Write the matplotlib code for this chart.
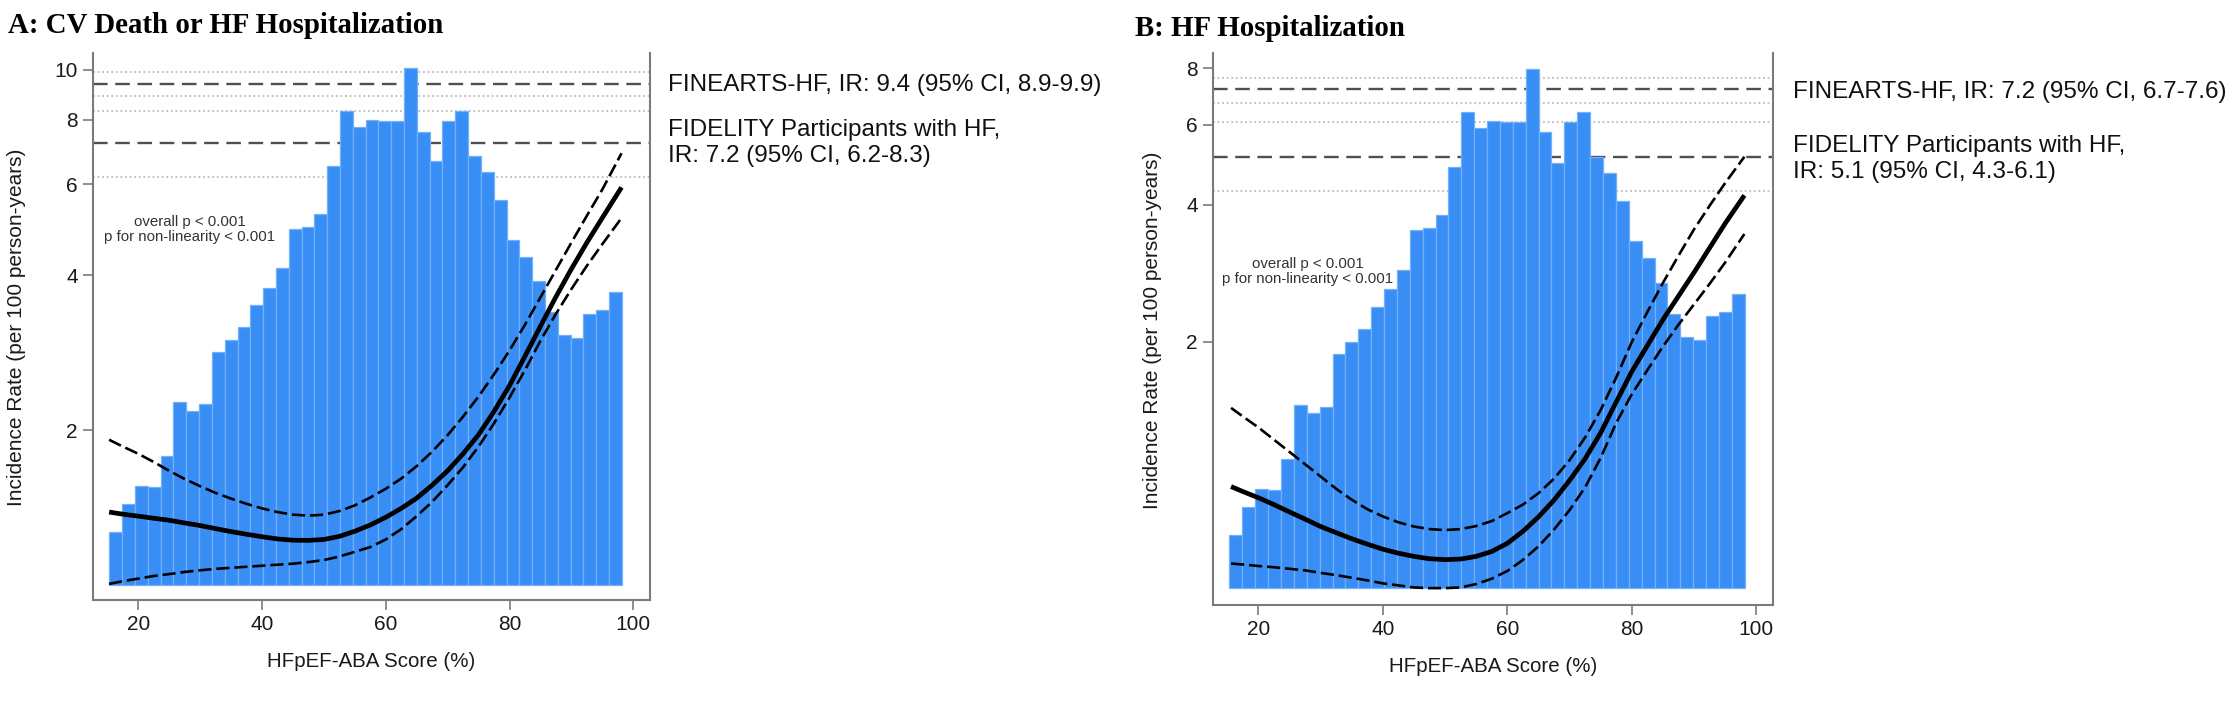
import numpy as np
import matplotlib
matplotlib.use("Agg")
import matplotlib.pyplot as plt
from matplotlib.ticker import FixedLocator, NullLocator, FixedFormatter

plt.rcParams['font.family'] = ['Liberation Sans', 'DejaVu Sans']
plt.rcParams['lines.scale_dashes'] = False

# ---------------- data ----------------
hist_start = 15.35
hist_width = 2.07
hist_rel = [0.103, 0.157, 0.192, 0.190, 0.250, 0.354, 0.337, 0.350, 0.451, 0.474,
            0.500, 0.542, 0.576, 0.614, 0.690, 0.693, 0.719, 0.811, 0.917, 0.886,
            0.900, 0.898, 0.898, 1.000, 0.878, 0.820, 0.898, 0.917, 0.830, 0.800,
            0.746, 0.668, 0.636, 0.588, 0.528, 0.484, 0.479, 0.525, 0.533, 0.567]

score_A = [15.3, 17.5, 20, 22.5, 25, 27.5, 30, 32.5, 35, 37.5, 40, 42.5, 45, 47.5, 50, 52.5,
           55, 57.5, 60, 62.5, 65, 67.5, 70, 72.5, 75, 77.5, 80, 82.5, 85, 87.5, 90, 92.5, 95, 98.1]
score_B = [15.6, 17.5, 20, 22.5, 25, 27.5, 30, 32.5, 35, 37.5, 40, 42.5, 45, 47.5, 50, 52.5,
           55, 57.5, 60, 62.5, 65, 67.5, 70, 72.5, 75, 77.5, 80, 82.5, 85, 87.5, 90, 92.5, 95, 98.1]

A_est = [1.390, 1.377, 1.365, 1.352, 1.340, 1.324, 1.309, 1.291, 1.274, 1.259, 1.245, 1.233,
         1.226, 1.225, 1.230, 1.247, 1.276, 1.312, 1.358, 1.413, 1.479, 1.567, 1.671, 1.803,
         1.963, 2.178, 2.443, 2.786, 3.184, 3.631, 4.111, 4.624, 5.164, 5.916]
A_hi = [1.919, 1.862, 1.803, 1.738, 1.671, 1.611, 1.560, 1.514, 1.476, 1.442, 1.413, 1.390,
        1.374, 1.368, 1.374, 1.396, 1.432, 1.483, 1.542, 1.614, 1.706, 1.820, 1.959, 2.128,
        2.328, 2.570, 2.858, 3.206, 3.622, 4.093, 4.624, 5.212, 5.861, 6.887]
A_lo = [1.009, 1.021, 1.033, 1.045, 1.054, 1.064, 1.072, 1.079, 1.084, 1.089, 1.094, 1.099,
        1.104, 1.112, 1.122, 1.140, 1.164, 1.189, 1.230, 1.288, 1.365, 1.455, 1.567, 1.698,
        1.862, 2.065, 2.317, 2.618, 2.985, 3.365, 3.758, 4.169, 4.592, 5.160]

B_est = [0.959, 0.935, 0.906, 0.875, 0.843, 0.813, 0.783, 0.759, 0.736, 0.716, 0.698, 0.684,
         0.673, 0.665, 0.662, 0.664, 0.673, 0.690, 0.719, 0.764, 0.822, 0.895, 0.989, 1.104,
         1.259, 1.472, 1.718, 1.959, 2.234, 2.518, 2.838, 3.214, 3.639, 4.198]
B_hi = [1.429, 1.368, 1.294, 1.216, 1.143, 1.074, 1.009, 0.948, 0.897, 0.855, 0.824, 0.800,
        0.783, 0.773, 0.769, 0.773, 0.785, 0.805, 0.838, 0.875, 0.927, 0.998, 1.096, 1.230,
        1.413, 1.667, 1.995, 2.323, 2.692, 3.090, 3.532, 3.981, 4.467, 5.105]
B_lo = [0.649, 0.646, 0.641, 0.637, 0.632, 0.627, 0.619, 0.612, 0.604, 0.596, 0.587, 0.581,
        0.575, 0.573, 0.573, 0.575, 0.585, 0.601, 0.625, 0.661, 0.708, 0.771, 0.851, 0.955,
        1.109, 1.324, 1.531, 1.730, 1.950, 2.178, 2.415, 2.679, 2.985, 3.451]

A_ref = {'FINEARTS': (9.4, 8.9, 9.9), 'FIDELITY': (7.2, 6.2, 8.3)}
B_ref = {'FINEARTS': (7.2, 6.7, 7.6), 'FIDELITY': (5.1, 4.3, 6.1)}

A_yticks = [2, 4, 6, 8, 10]
B_yticks = [2, 4, 6, 8]
xticks = [20, 40, 60, 80, 100]

A_title = "A: CV Death or HF Hospitalization"
B_title = "B: HF Hospitalization"
A_txt1 = "FINEARTS-HF, IR: 9.4 (95% CI, 8.9-9.9)"
A_txt2 = "FIDELITY Participants with HF,\nIR: 7.2 (95% CI, 6.2-8.3)"
B_txt1 = "FINEARTS-HF, IR: 7.2 (95% CI, 6.7-7.6)"
B_txt2 = "FIDELITY Participants with HF,\nIR: 5.1 (95% CI, 4.3-6.1)"
ptxt1 = "overall p < 0.001"
ptxt2 = "p for non-linearity < 0.001"
ylab = "Incidence Rate (per 100 person-years)"
xlab = "HFpEF-ABA Score (%)"

W, H = 2229, 703
fig = plt.figure(figsize=(W / 100, H / 100), dpi=100)

BAR = '#388ef5'
BAR_EDGE = '#74b0f8'
SPINE = '#7a7a7a'


def px_pos(l, r, t, b):
    return [l / W, 1 - b / H, (r - l) / W, (b - t) / H]


def panel(pos, xlim, ylim, hylim, xs, est, hi, lo, refs, yticks, ptxt_pos):
    # back layer: reference lines (hidden behind bars)
    axb = fig.add_axes(pos)
    axb.set_yscale('log')
    axb.set_xlim(*xlim)
    axb.set_ylim(*ylim)
    axb.axis('off')
    for key, (v, l, u) in refs.items():
        for c in (l, u):
            axb.axhline(c, color='#b0b0b0', lw=1.1, dashes=(1.3, 2.0))
        axb.axhline(v, color='#505050', lw=1.7, dashes=(10.5, 5.5))

    # histogram layer
    axh = fig.add_axes(pos)
    axh.patch.set_visible(False)
    axh.set_xlim(*xlim)
    axh.set_ylim(*hylim)
    axh.axis('off')
    lefts = hist_start + hist_width * np.arange(len(hist_rel))
    axh.bar(lefts, hist_rel, width=hist_width, align='edge', color=BAR,
            edgecolor=BAR_EDGE, linewidth=0.9)

    # main layer
    ax = fig.add_axes(pos)
    ax.patch.set_visible(False)
    ax.set_yscale('log')
    ax.set_xlim(*xlim)
    ax.set_ylim(*ylim)
    ax.plot(xs, hi, color='black', lw=1.9, dashes=(9.5, 3.5), solid_capstyle='butt')
    ax.plot(xs, lo, color='black', lw=1.9, dashes=(9.5, 3.5), solid_capstyle='butt')
    ax.plot(xs, est, color='black', lw=3.4, solid_capstyle='butt', solid_joinstyle='round')

    ax.yaxis.set_major_locator(FixedLocator(yticks))
    ax.yaxis.set_major_formatter(FixedFormatter([str(t) for t in yticks]))
    ax.yaxis.set_minor_locator(NullLocator())
    ax.xaxis.set_major_locator(FixedLocator(xticks))
    ax.xaxis.set_minor_locator(NullLocator())
    ax.spines['top'].set_visible(False)
    for s in ('left', 'right', 'bottom'):
        ax.spines[s].set_color(SPINE)
        ax.spines[s].set_linewidth(1.5)
    ax.tick_params(axis='both', which='major', length=7, width=1.2, color=SPINE,
                   labelsize=15, labelcolor='#1a1a1a', pad=4)
    ax.set_xlabel(xlab, fontsize=14.8, color='#1a1a1a')
    ax.xaxis.set_label_coords(0.5, -0.095)
    ax.text(ptxt_pos[0], ptxt_pos[1], ptxt1, transform=ax.transAxes, ha='center',
            va='center', fontsize=10.8, color='#333333')
    ax.text(ptxt_pos[0], ptxt_pos[2], ptxt2, transform=ax.transAxes, ha='center',
            va='center', fontsize=10.8, color='#333333')
    return ax


xlim = (12.7, 102.7)
axA = panel(px_pos(93, 650, 53, 600), xlim, (0.939, 10.77), (-0.029, 1.030),
            score_A, A_est, A_hi, A_lo, A_ref, A_yticks, (0.174, 0.691, 0.664))
axB = panel(px_pos(1213, 1773, 53, 605), xlim, (0.526, 8.64), (-0.0318, 1.0308),
            score_B, B_est, B_hi, B_lo, B_ref, B_yticks, (0.169, 0.618, 0.591))

# titles
fig.text(8 / W, 1 - 33 / H, A_title, fontsize=20.8, fontweight='bold',
         family='Liberation Serif', ha='left', va='baseline')
fig.text(1135 / W, 1 - 36 / H, B_title, fontsize=20.8, fontweight='bold',
         family='Liberation Serif', ha='left', va='baseline')

# y labels
fig.text(17 / W, 1 - 327 / H, ylab, rotation=90, ha='center', va='center',
         fontsize=15, color='#1a1a1a')
fig.text(1152 / W, 1 - 330 / H, ylab, rotation=90, ha='center', va='center',
         fontsize=15, color='#1a1a1a')

# right-hand annotations
fig.text(668 / W, 1 - 85 / H, A_txt1, fontsize=17.5, ha='left', va='center', color='#111111')
fig.text(668 / W, 1 - 143 / H, A_txt2, fontsize=17.5, ha='left', va='center',
         color='#111111', linespacing=1.2)
fig.text(1793 / W, 1 - 92 / H, B_txt1, fontsize=17.5, ha='left', va='center', color='#111111')
fig.text(1793 / W, 1 - 159 / H, B_txt2, fontsize=17.5, ha='left', va='center',
         color='#111111', linespacing=1.2)

fig.savefig('out.png', dpi=100)
